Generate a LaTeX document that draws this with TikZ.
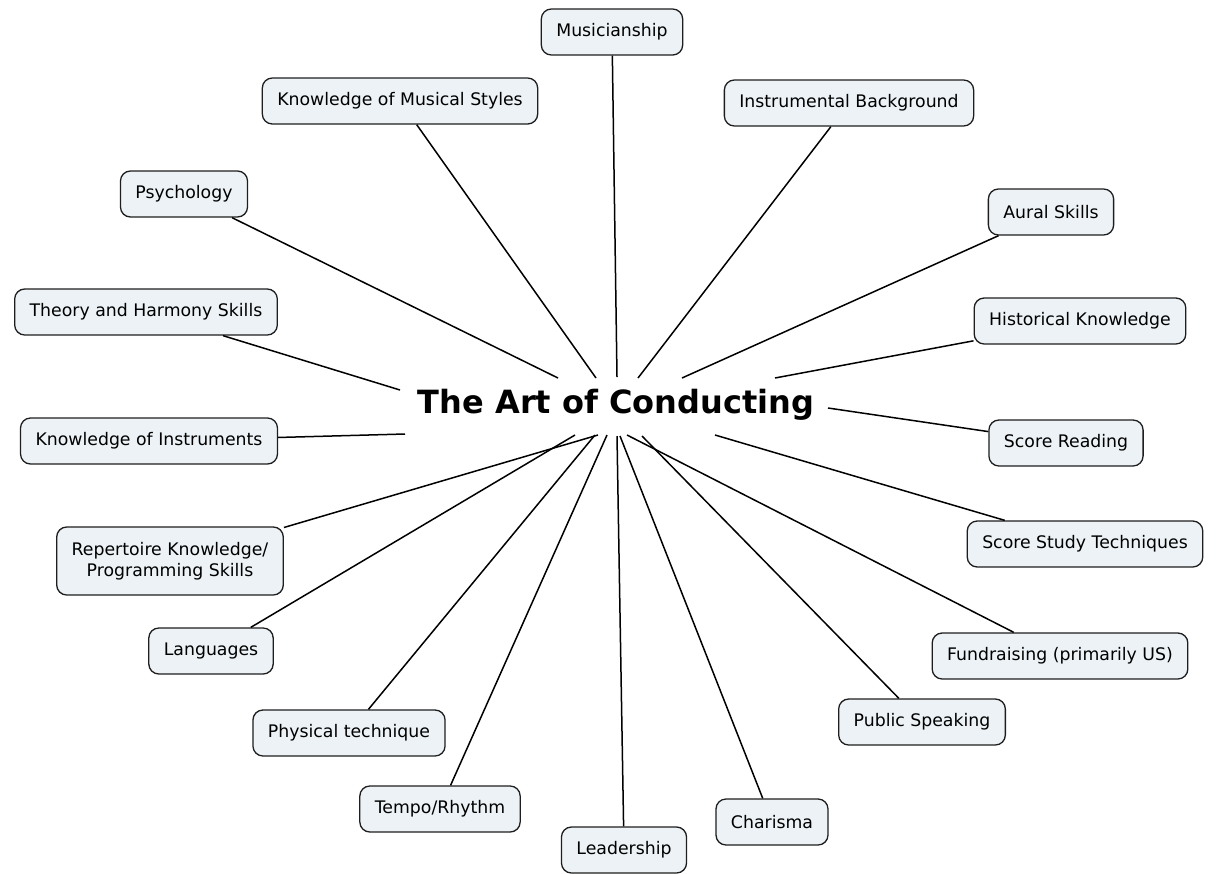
\documentclass[tikz,border=0pt]{standalone}
\usepackage{fontspec}
\setmainfont{DejaVu Sans}
\definecolor{boxfill}{RGB}{236,242,245}
\definecolor{boxline}{RGB}{30,30,30}
\tikzset{
  topic/.style={draw=boxline, fill=boxfill, rounded corners=10pt, line width=1.3pt,
    inner xsep=15pt, minimum height=46pt, font=\fontsize{17.3}{21}\selectfont, align=center},
  hub/.style={font=\bfseries\fontsize{32}{38}\selectfont},
  spoke/.style={line width=1.5pt, black}
}
\begin{document}
\begin{tikzpicture}[x=1pt, y=-1pt]
\useasboundingbox (0,0) rectangle (1217,873);

% Central topic
\node[hub] (art) at (616,405) {The Art of Conducting};

% Topics, clockwise from the top
\node[topic] (mus) at (612,32) {Musicianship};
\node[topic] (ins) at (849,103) {Instrumental Background};
\node[topic] (aur) at (1051,212) {Aural Skills};
\node[topic] (his) at (1080,321) {Historical Knowledge};
\node[topic] (scr) at (1066,443) {Score Reading};
\node[topic] (sst) at (1085,544) {Score Study Techniques};
\node[topic] (fun) at (1060,656) {Fundraising (primarily US)};
\node[topic] (pub) at (922,722) {Public Speaking};
\node[topic] (cha) at (772,822) {Charisma};
\node[topic] (lea) at (624,850) {Leadership};
\node[topic] (tem) at (440,809) {Tempo/Rhythm};
\node[topic] (phy) at (349,733) {Physical technique};
\node[topic] (lan) at (211,651) {Languages};
\node[topic, minimum height=68pt] (rep) at (170,561) {Repertoire Knowledge/\\Programming Skills};
\node[topic] (kin) at (149,441) {Knowledge of Instruments};
\node[topic] (the) at (146,312) {Theory and Harmony Skills};
\node[topic] (psy) at (184,194) {Psychology};
\node[topic] (sty) at (400,101) {Knowledge of Musical Styles};

% Inner ends of the spokes
\coordinate (mus-in) at (617,377);
\coordinate (ins-in) at (638,378);
\coordinate (aur-in) at (682,378);
\coordinate (his-in) at (775,378);
\coordinate (scr-in) at (828,408);
\coordinate (sst-in) at (715,435);
\coordinate (fun-in) at (627,435);
\coordinate (pub-in) at (642,436);
\coordinate (cha-in) at (620,436);
\coordinate (lea-in) at (617,436);
\coordinate (tem-in) at (607,435);
\coordinate (phy-in) at (595,435);
\coordinate (lan-in) at (575,435);
\coordinate (rep-in) at (598,435);
\coordinate (kin-in) at (405,434);
\coordinate (the-in) at (400,390);
\coordinate (psy-in) at (558,378);
\coordinate (sty-in) at (596,378);

% Spokes
\foreach \t in {mus,ins,aur,his,scr,sst,fun,pub,cha,lea,tem,phy,lan,rep,kin,the,psy,sty}
  \draw[spoke] (\t) -- (\t-in);
\end{tikzpicture}
\end{document}
